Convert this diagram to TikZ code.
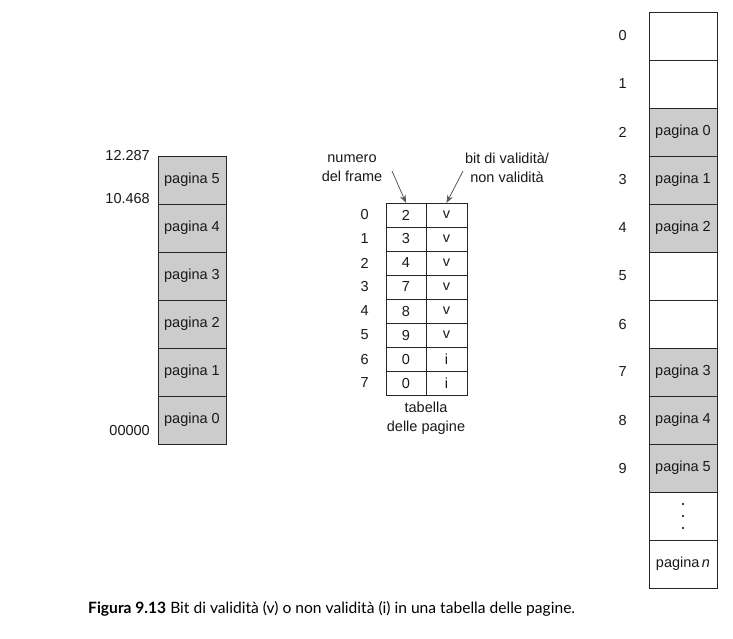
\documentclass[tikz,border=0pt]{standalone}
\usepackage{fontspec}
\setmainfont{Liberation Sans}
\newfontfamily\capfont{Lato}
\usetikzlibrary{positioning,arrows.meta}

\begin{document}
\begin{tikzpicture}[x=1pt,y=-1pt,
			font=\fontsize{14.5}{19}\selectfont,
			cell/.style={rectangle, draw=black!85, line width=0.8pt, minimum width=68pt,
					minimum height=48pt, inner sep=0pt, outer sep=0pt, text=black!90},
			pagecell/.style={cell, fill=black!20},
			entry/.style={rectangle, draw=black!85, line width=0.8pt, minimum width=40pt,
					minimum height=24pt, inner sep=0pt, outer sep=0pt, text=black!90},
			lbl/.style={inner sep=0pt, text=black!90},
			arrow/.style={-{Stealth[length=8pt,width=6pt]}, black!65, line width=0.8pt}
		]
		\useasboundingbox (0,0) rectangle (733,638);

		% logical memory
		\foreach \k [count=\i from 0] in {5,4,3,2,1,0}
			\node[pagecell] (lp\k) at (192,180+48*\i) {pagina \k};
		\node[lbl, left=8pt of lp5.north west] (addrtop) {12.287};
		\node[lbl, left=8pt of lp5.south west, yshift=5pt] (addrmid) {10.468};
		\node[lbl, left=8pt of lp0.south west, yshift=14pt] (addrbot) {00000};

		% page table
		\foreach \fr/\bt [count=\i from 0] in {2/v,3/v,4/v,7/v,8/v,9/v,0/i,0/i} {
				\node[entry] (f\i) at (406,215+24*\i) {\fr};
				\node[entry, minimum width=41pt, right=0pt of f\i] (b\i) {\bt};
				\node[lbl, left=17pt of f\i] (row\i) {\i};
			}
		\node[lbl, align=center] (framelbl) at (352,168) {numero\\del frame};
		\node[lbl, align=center] (bitlbl) at (507,168) {bit di validità/\\non validità};
		\node[lbl, align=center, below=7pt of f7.south east] (tablbl) {tabella\\delle pagine};
		\coordinate (framestart) at (392,171);
		\coordinate (bitstart) at (463,171);
		\draw[arrow] (framestart) -- (f0.north);
		\draw[arrow] (bitstart) -- (b0.north);

		% physical memory
		\foreach \i/\p in {2/0,3/1,4/2,7/3,8/4,9/5}
			\node[pagecell] (fr\i) at (683,36+48*\i) {pagina \p};
		\foreach \i in {0,1,5,6,10}
			\node[cell] (fr\i) at (683,36+48*\i) {};
		\node[cell] (fr11) at (683,36+48*11) {pagina\,\textit{n}};
		\foreach \d in {-12,0,12}
			\fill[black] ([yshift=\d pt]fr10.center) circle (1.2pt);
		\foreach \i in {0,...,9}
			\node[lbl, left=22pt of fr\i] (frnum\i) {\i};

		% caption
		\node[lbl, anchor=west, text=black] (caption) at (88,609)
			{\capfont\fontsize{15.6}{18}\selectfont\textbf{Figura 9.13} Bit di validità (v) o non validità (i) in una tabella delle pagine.};
	\end{tikzpicture}
\end{document}
